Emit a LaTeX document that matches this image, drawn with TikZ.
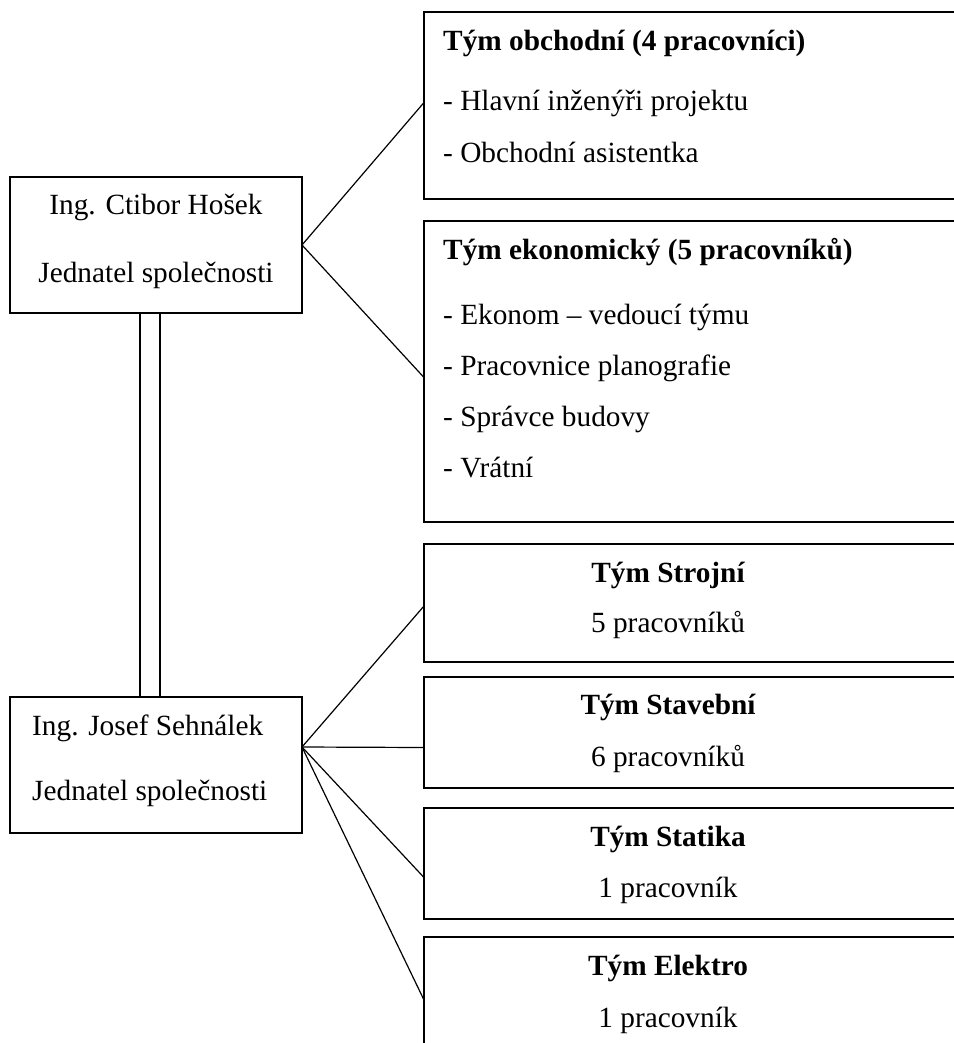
\documentclass[tikz,border=0pt]{standalone}
\usepackage{fontspec}
\setmainfont{Liberation Serif}
\begin{document}
\begin{tikzpicture}[x=1pt,y=-1pt,
  box/.style={draw,line width=1.6pt,inner sep=0pt,outer sep=0pt,anchor=north west},
  conn/.style={line width=1.2pt},
  txt/.style={inner sep=0pt,anchor=base west,font=\fontsize{29.3}{35}\selectfont},
  ctxt/.style={inner sep=0pt,anchor=base,font=\fontsize{29.3}{35}\selectfont},
  btxt/.style={inner sep=0pt,anchor=base west,font=\fontsize{29.3}{35}\selectfont\bfseries},
  bctxt/.style={inner sep=0pt,anchor=base,font=\fontsize{29.3}{35}\selectfont\bfseries}]
\useasboundingbox[fill=white] (0,0) rectangle (953,1043);
% left boxes
\node[box,minimum width=292pt,minimum height=136pt] (hosek) at (10,177) {};
\node[box,minimum width=292pt,minimum height=136pt] (sehn) at (10,697) {};
\node[ctxt] (h1) at (156,214) {Ing. Ctibor Hošek};
\node[ctxt] (h2) at (156,282) {Jednatel společnosti};
\node[txt] (s1) at (32,735) {Ing. Josef Sehnálek};
\node[txt] (s2) at (32,800) {Jednatel společnosti};
% right boxes
\node[box,minimum width=560pt,minimum height=187pt] (obch) at (424,12) {};
\node[box,minimum width=560pt,minimum height=301pt] (ekon) at (424,221) {};
\node[box,minimum width=560pt,minimum height=118pt] (stroj) at (424,544) {};
\node[box,minimum width=560pt,minimum height=111pt] (stav) at (424,677) {};
\node[box,minimum width=560pt,minimum height=111pt] (stat) at (424,808) {};
\node[box,minimum width=560pt,minimum height=140pt] (elek) at (424,937) {};
% texts
\node[btxt] (o0) at (443,51) {Tým obchodní (4 pracovníci)};
\node[txt] (o1) at (443,111) {- Hlavní inženýři projektu};
\node[txt] (o2) at (443,163) {- Obchodní asistentka};
\node[btxt] (e0) at (443,259) {Tým ekonomický (5 pracovníků)};
\node[txt] (e1) at (443,324) {- Ekonom – vedoucí týmu};
\node[txt] (e2) at (443,375) {- Pracovnice planografie};
\node[txt] (e3) at (443,426) {- Správce budovy};
\node[txt] (e4) at (443,477) {- Vrátní};
\node[bctxt] (st0) at (668,582) {Tým Strojní};
\node[ctxt] (st1) at (668,632) {5 pracovníků};
\node[bctxt] (sv0) at (668,714) {Tým Stavební};
\node[ctxt] (sv1) at (668,766) {6 pracovníků};
\node[bctxt] (sa0) at (668,846) {Tým Statika};
\node[ctxt] (sa1) at (668,897) {1 pracovník};
\node[bctxt] (el0) at (668,975) {Tým Elektro};
\node[ctxt] (el1) at (668,1027) {1 pracovník};
% connectors
\coordinate (hj) at (hosek.east);
\coordinate (sj) at (302,747);
\draw[conn] (hj) -- ([yshift=3pt]obch.west);
\draw[conn] (hj) -- ([yshift=-6pt]ekon.west);
\draw[conn] (sj) -- ([yshift=-3pt]stroj.west);
\draw[conn] (sj) -- ([yshift=-15pt]stav.west);
\draw[conn] (sj) -- ([yshift=-14pt]stat.west);
\draw[conn] (sj) -- (424,1000);
% double line
\draw[conn] ([xshift=130pt]hosek.south west) -- ([xshift=130pt]sehn.north west);
\draw[conn] ([xshift=150pt]hosek.south west) -- ([xshift=150pt]sehn.north west);
\end{tikzpicture}
\end{document}
